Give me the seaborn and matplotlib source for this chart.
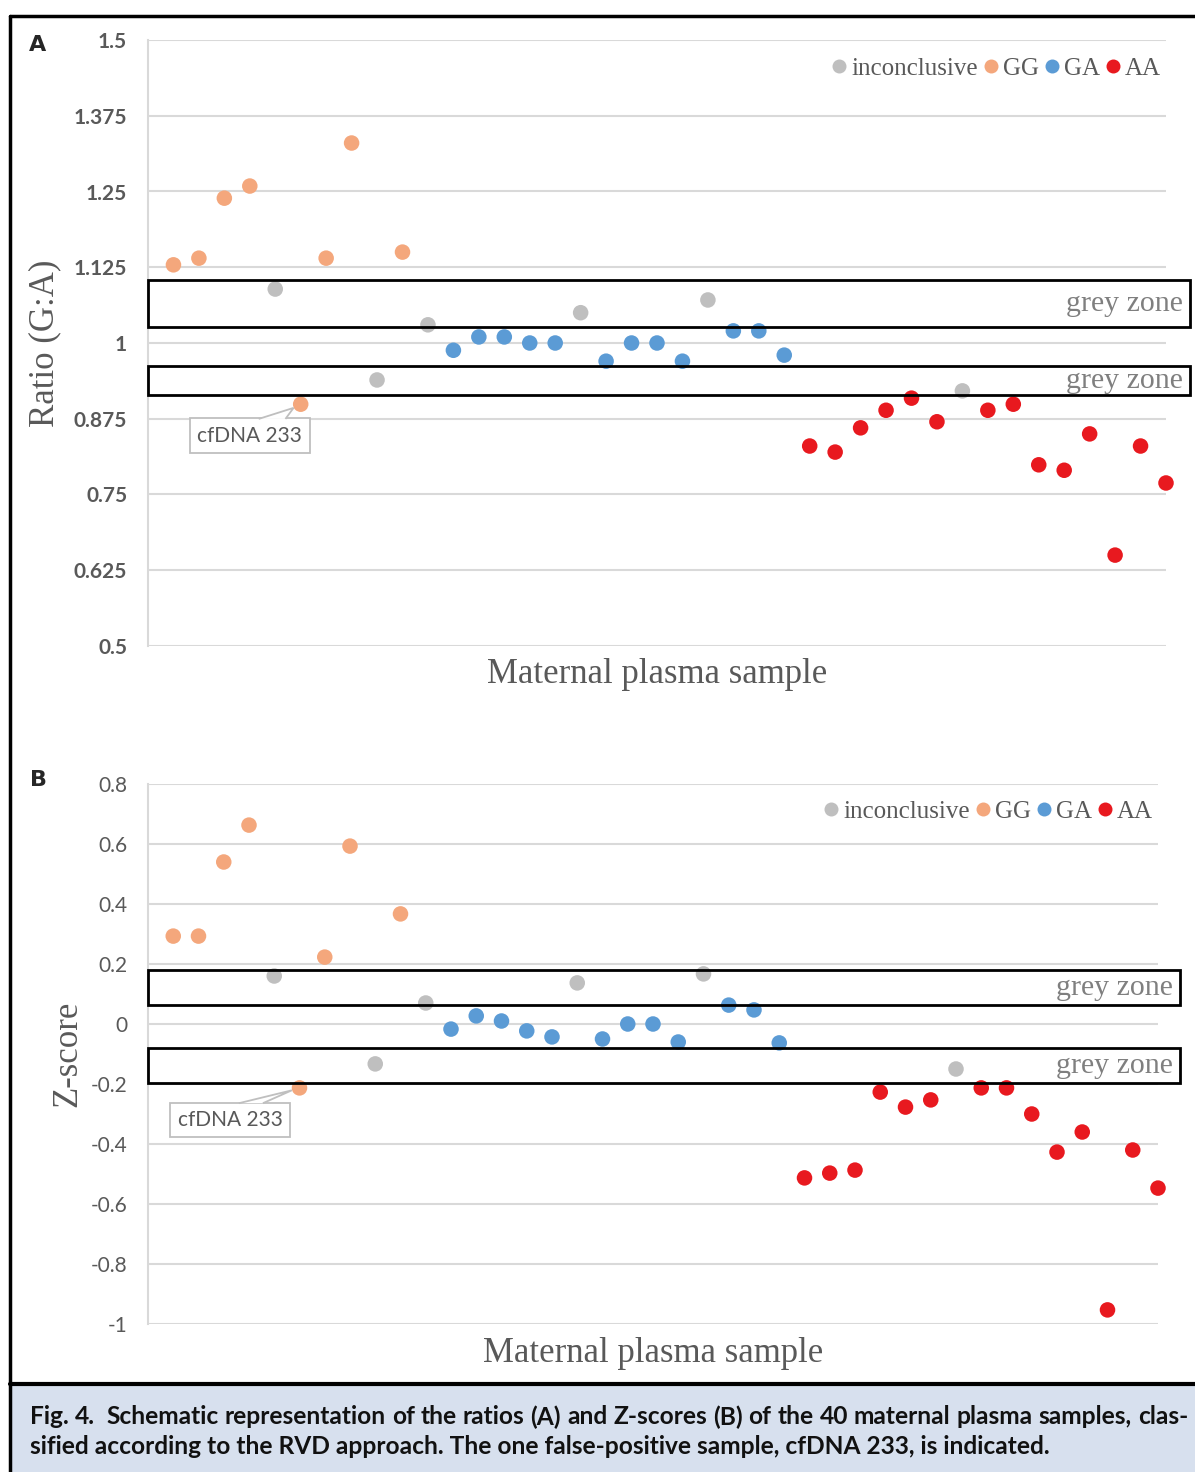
import numpy as np
import pandas as pd
import matplotlib
matplotlib.use("Agg")
import matplotlib.pyplot as plt
from matplotlib.lines import Line2D
from matplotlib.patches import Rectangle, Polygon
import seaborn as sns

# values, one per maternal plasma sample (1..40)
samples = list(range(1, 41))
genotype = ["GG", "GG", "GG", "GG", "inconclusive", "GG", "GG", "GG", "inconclusive", "GG",
            "inconclusive", "GA", "GA", "GA", "GA", "GA", "inconclusive", "GA", "GA", "GA",
            "GA", "inconclusive", "GA", "GA", "GA", "AA", "AA", "AA", "AA", "AA",
            "AA", "inconclusive", "AA", "AA", "AA", "AA", "AA", "AA", "AA", "AA"]
ratio = [1.129, 1.140, 1.239, 1.259, 1.089, 0.899, 1.140, 1.330, 0.939, 1.150,
         1.030, 0.988, 1.010, 1.010, 1.000, 1.000, 1.050, 0.970, 1.000, 1.000,
         0.970, 1.071, 1.020, 1.020, 0.980, 0.830, 0.820, 0.860, 0.889, 0.909,
         0.870, 0.921, 0.889, 0.899, 0.799, 0.790, 0.850, 0.650, 0.830, 0.769]
zscore = [0.293, 0.293, 0.540, 0.663, 0.160, -0.213, 0.223, 0.593, -0.133, 0.367,
          0.070, -0.017, 0.027, 0.010, -0.023, -0.043, 0.137, -0.050, 0.000, 0.000,
          -0.060, 0.167, 0.063, 0.047, -0.063, -0.513, -0.497, -0.487, -0.227, -0.277,
          -0.253, -0.150, -0.213, -0.213, -0.300, -0.427, -0.360, -0.953, -0.420, -0.547]

hue_order = ["inconclusive", "GG", "GA", "AA"]
colors = {"inconclusive": "#BFBFBF", "GG": "#F4A77C", "GA": "#5B9BD5", "AA": "#E8191F"}

ratio_ticks = [0.5, 0.625, 0.75, 0.875, 1.0, 1.125, 1.25, 1.375, 1.5]
ratio_ticklabels = ["0.5", "0.625", "0.75", "0.875", "1", "1.125", "1.25", "1.375", "1.5"]
z_ticks = [-1.0, -0.8, -0.6, -0.4, -0.2, 0.0, 0.2, 0.4, 0.6, 0.8]
z_ticklabels = ["-1", "-0.8", "-0.6", "-0.4", "-0.2", "0", "0.2", "0.4", "0.6", "0.8"]

# grey zones (lower, upper) for each panel
ratio_zones = [(1.026, 1.104), (0.914, 0.962)]
z_zones = [(0.063, 0.180), (-0.197, -0.080)]

false_pos = 6  # cfDNA 233

caption_1 = ("Fig. 4.  Schematic representation of the ratios (A) and Z-scores (B) of the 40 "
             "maternal plasma samples, clas-")
caption_2 = ("sified according to the RVD approach. The one false-positive sample, "
             "cfDNA 233, is indicated.")

df = pd.DataFrame({"sample": samples, "genotype": genotype,
                   "ratio": ratio, "z": zscore})

sns.set_theme(style="white")
SERIF = ["Liberation Serif", "DejaVu Serif"]
SANS = ["Lato", "Open Sans", "DejaVu Sans"]
plt.rcParams["font.family"] = SANS

W, H = 1195, 1472
fig = plt.figure(figsize=(W / 100, H / 100), dpi=100)
ax_a = fig.add_axes([148 / W, 1 - 646 / H, 1018 / W, 606 / H])
ax_b = fig.add_axes([148 / W, 1 - 1324 / H, 1010 / W, 540 / H])

grid_col = "#D9D9D9"
txt_col = "#595959"
note_col = "#BFBFBF"


def callout(ax, ycol, note_xy, tail_x):
    '''
    Text box "cfDNA 233" with a speech-bubble pointer to the false positive
    '''
    px, py = false_pos, df.loc[false_pos - 1, ycol]
    txt = ax.text(*note_xy, "cfDNA 233", ha="center", va="center", fontsize=15,
                  color=txt_col, zorder=5,
                  bbox=dict(boxstyle="square,pad=0.35", fc="white", ec=note_col, lw=1.3))
    fig.canvas.draw()
    box = txt.get_bbox_patch().get_window_extent()
    to_data = ax.transData.inverted()
    top = to_data.transform((0, box.y1 - 0.5))[1]
    # tip stops just short of the marker
    p = ax.transData.transform((px, py))
    b = ax.transData.transform((np.mean(tail_x), top))
    d = (b - p) / np.hypot(*(b - p))
    tip = to_data.transform(p + d * 8)
    ax.add_patch(Polygon([(tail_x[0], top), tip, (tail_x[1], top)], closed=False,
                         fc="white", ec=note_col, lw=1.3, zorder=6))


def draw_panel(ax, ycol, ylim, ticks, ticklabels, zones, ylabel, label_x,
               tick_weight, box_right, note_xy, tail_x):
    sns.scatterplot(data=df, x="sample", y=ycol, hue="genotype", hue_order=hue_order,
                    palette=colors, s=125, linewidth=0, ax=ax, zorder=3)
    ax.collections[0].set_clip_on(False)
    ax.set_xlim(0, 40)
    ax.set_ylim(*ylim)
    ax.set_yticks(ticks)
    ax.set_yticklabels(ticklabels, fontsize=15, color=txt_col, fontweight=tick_weight)
    ax.set_xticks([])
    ax.tick_params(axis="y", length=0, pad=15)
    ax.grid(axis="y", color=grid_col, linewidth=1.5)
    for side in ["top", "right", "bottom"]:
        ax.spines[side].set_visible(False)
    ax.spines["left"].set_color(grid_col)
    ax.spines["left"].set_linewidth(1.5)

    ax.set_xlabel("Maternal plasma sample", family=SERIF, fontsize=25,
                  color=txt_col, labelpad=9)
    ax.set_ylabel(ylabel, family=SERIF, fontsize=25, color=txt_col)
    ax.yaxis.set_label_coords(label_x, 0.5)

    for lo, hi in zones:
        ax.add_patch(Rectangle((0, lo), box_right, hi - lo, fill=False,
                               edgecolor="black", linewidth=2, clip_on=False, zorder=4))
        ax.text(box_right - 0.3, (lo + hi) / 2, "grey zone", family=SERIF, fontsize=21.5,
                color="#7F7F7F", ha="right", va="center", clip_on=False, zorder=5)

    callout(ax, ycol, note_xy, tail_x)

    handles, labels = ax.get_legend_handles_labels()
    ax.legend(handles, labels, loc="upper right", bbox_to_anchor=(1.005, 0.988), ncol=4,
              frameon=False, handletextpad=0.0, columnspacing=0.0, handlelength=1.0,
              markerscale=0.9, prop={"family": SERIF, "size": 18}, labelcolor=txt_col,
              borderaxespad=0)


draw_panel(ax_a, "ratio", (0.5, 1.5), ratio_ticks, ratio_ticklabels, ratio_zones,
           "Ratio (G:A)", -0.085, "bold", 40.95, (4.0, 0.847), (4.35, 5.4))
draw_panel(ax_b, "z", (-1.0, 0.8), z_ticks, z_ticklabels, z_zones,
           "Z-score", -0.063, "normal", 40.87, (3.25, -0.32), (3.6, 4.55))

# panel letters
fig.text(38 / W, 1 - 45 / H, "A", fontsize=16, fontweight="bold",
         family=["DejaVu Sans"], ha="center", va="center")
fig.text(38 / W, 1 - 780 / H, "B", fontsize=16, fontweight="bold",
         family=["DejaVu Sans"], ha="center", va="center")

# frame and caption band
cap_top = 1 - 1384 / H
fig.add_artist(Rectangle((10 / W, 0), 1, cap_top, transform=fig.transFigure,
                         facecolor="#D7E0EE", edgecolor="none", zorder=0))
fig.add_artist(Line2D([10 / W, 1], [1 - 16 / H] * 2, color="black", lw=2.5))
fig.add_artist(Line2D([10 / W, 1], [cap_top] * 2, color="black", lw=3))
fig.add_artist(Line2D([10 / W] * 2, [0, 1 - 16 / H], color="black", lw=2.5))

# caption: first line justified between x=30 and x=1188, second line left aligned
renderer = fig.canvas.get_renderer()
cap_props = dict(fontweight="bold", color="#111111", family=SANS)


def text_width(s, size):
    t = fig.text(0, 0, s, fontsize=size, **cap_props)
    w = t.get_window_extent(renderer).width
    t.remove()
    return w


cap_size = min(10 * 1158 / text_width(caption_1, 10), 10 * 1045 / text_width(caption_2, 10))
tokens = caption_1.split(" ")
widths = [text_width(tok, cap_size) if tok else 0 for tok in tokens]
gap = (1158 - sum(widths)) / (len(tokens) - 1)
x = 30
for tok, w in zip(tokens, widths):
    if tok:
        fig.text(x / W, 1 - 1417 / H, tok, fontsize=cap_size, va="center", ha="left",
                 **cap_props)
    x += w + gap
fig.text(30 / W, 1 - 1446 / H, caption_2, fontsize=cap_size, va="center", ha="left",
         **cap_props)

fig.savefig("out.png", dpi=100)
